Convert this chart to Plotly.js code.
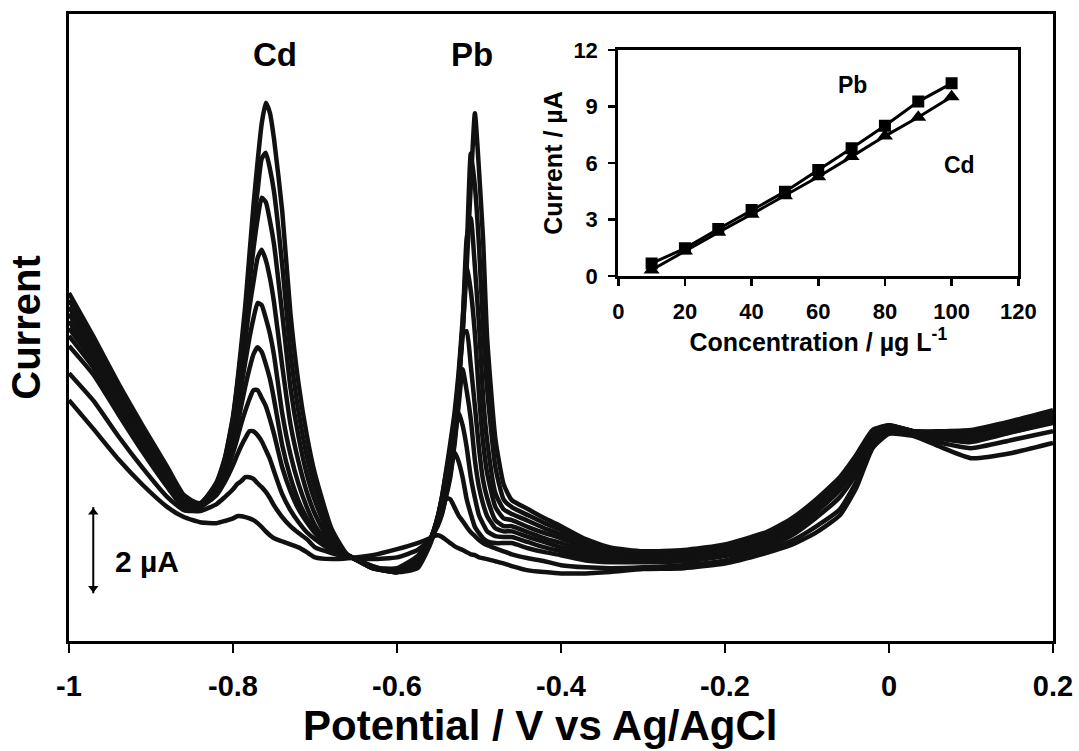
<!DOCTYPE html>
<html><head><meta charset="utf-8">
<script src="https://cdn.plot.ly/plotly-3.0.1.min.js"></script>
<style>html,body{margin:0;padding:0;background:#fff}#chart{width:1079px;height:751px}</style>
</head><body><div id="chart"></div>
<script>
// Potential grid (V vs Ag/AgCl)
const potential = [-1.00,-0.97,-0.94,-0.91,-0.88,-0.86,-0.84,-0.82,-0.81,-0.80,-0.795,-0.79,-0.785,-0.78,-0.775,-0.77,-0.765,-0.76,-0.755,-0.75,-0.74,-0.73,-0.72,-0.71,-0.70,-0.68,-0.66,-0.63,-0.60,-0.575,-0.56,-0.555,-0.55,-0.545,-0.54,-0.535,-0.53,-0.525,-0.52,-0.515,-0.51,-0.505,-0.50,-0.495,-0.49,-0.48,-0.47,-0.46,-0.44,-0.42,-0.40,-0.37,-0.34,-0.30,-0.25,-0.20,-0.15,-0.12,-0.09,-0.06,-0.04,-0.02,0.00,0.03,0.06,0.10,0.15,0.20];

// Stripping currents (µA, arbitrary offset) for each concentration (µg/L)
const current100 = [8.03,7.02,5.95,4.96,4.01,3.37, 3.16,3.67,4.22,5.19,5.93,6.81,7.75,8.91,10.06,11.06,11.94,12.42,12.19,11.59,9.93,7.57,5.93,4.75,3.85,2.60,1.98, 1.73,1.59, 1.68,2.21,2.46,2.79,3.18,3.76,4.45,5.14,5.93,7.11,8.63,10.53,12.18,10.87,9.26,6.97,4.66,3.62, 3.25,3.04,2.83,2.65,2.35,2.16,2.07, 2.10,2.23,2.51,2.81,3.25,3.78,4.29,4.87, 4.98,4.84,4.84,4.87,5.08,5.33];
const current90 = [7.87,6.90,5.86,4.87,3.94,3.32, 3.18,3.64,4.20,5.12,5.86,6.67,7.55,8.56,9.56,10.39,11.13,11.27,10.90,10.37,8.68,6.67,5.28,4.27,3.53,2.49,1.98, 1.73,1.59, 1.77,2.30,2.56,2.88,3.34,3.94,4.57,5.24,6.16,7.41,9.00,11.25,10.50,9.12,7.22,5.79,4.01,3.27, 3.09,2.90,2.72,2.56,2.28,2.12,2.05, 2.07,2.19,2.46,2.77,3.20,3.74,4.24,4.84, 4.98,4.84,4.82,4.82,5.03,5.28];
const current80 = [7.71,6.78,5.77,4.80,3.90,3.30, 3.16,3.62,4.15,5.10,5.77,6.51,7.36,8.24,9.05,9.74,10.23,10.13,9.70,9.16,7.55,5.86,4.71,3.85,3.23,2.35,1.98, 1.70,1.59, 1.82,2.30,2.56,2.88,3.34,3.90,4.43,5.08,6.05,7.27,9.30,9.76,8.63,7.29,5.63,4.61,3.41,3.04, 2.93,2.77,2.60,2.46,2.21,2.07,2.03, 2.05,2.16,2.42,2.72,3.16,3.69,4.20,4.82, 4.96,4.84,4.80,4.78,4.98,5.24];
const current70 = [7.55,6.67,5.68,4.73,3.83,3.25, 3.18,3.60,4.11,5.01,5.58,6.21,6.95,7.69,8.29,8.84,9.03,8.79,8.38,7.82,6.35,5.01,4.13,3.44,2.93,2.23,1.98, 1.70,1.59, 1.84,2.30,2.56,2.90,3.32,3.78,4.29,4.96,5.91,7.06,8.66,8.08,7.09,5.68,4.57,3.87,3.09,2.83, 2.79,2.63,2.49,2.37,2.14,2.03,2.00, 2.03,2.12,2.37,2.67,3.11,3.64,4.15,4.80, 4.96,4.84,4.78,4.73,4.94,5.19];
const current60 = [7.38,6.55,5.58,4.64,3.78,3.23, 3.16,3.57,4.04,4.80,5.28,5.86,6.44,6.99,7.45,7.80,7.75,7.45,7.09,6.60,5.26,4.31,3.62,3.09,2.67,2.14,1.98, 1.68,1.59, 1.84,2.28,2.51,2.83,3.20,3.60,4.08,4.75,5.61,7.08,7.15,6.35,5.42,4.45,3.71,3.30,2.79,2.65, 2.65,2.51,2.37,2.26,2.07,1.98,1.96, 1.98,2.10,2.33,2.63,3.07,3.60,4.11,4.78, 4.94,4.82,4.75,4.71,4.89,5.17];
const current50 = [7.22,6.44,5.49,4.57,3.71,3.18, 3.13,3.50,3.90,4.57,4.94,5.42,5.88,6.28,6.62,6.78,6.67,6.39,6.05,5.58,4.52,3.78,3.23,2.83,2.51,2.07,1.98, 1.68,1.61, 1.86,2.28,2.53,2.83,3.13,3.46,3.97,4.61,5.40,6.27,5.77,5.12,4.17,3.55,3.16,2.88,2.60,2.53, 2.53,2.40,2.28,2.16,2.00,1.93,1.93, 1.96,2.05,2.28,2.58,3.02,3.55,4.06,4.75, 4.94,4.82,4.73,4.68,4.87,5.12];
const current40 = [7.04,6.30,5.38,4.47,3.64,3.13, 3.11,3.44,3.78,4.34,4.66,5.01,5.31,5.58,5.79,5.79,5.61,5.42,5.12,4.78,4.01,3.46,3.04,2.74,2.49,2.14,1.98, 1.68,1.63, 1.91,2.33,2.53,2.79,3.04,3.39,3.87,4.50,5.28,4.98,4.47,3.78,3.30,2.90,2.70,2.53,2.42,2.40, 2.40,2.28,2.16,2.07,1.93,1.86,1.89, 1.91,2.00,2.23,2.51,2.95,3.48,3.99,4.71, 4.91,4.82,4.71,4.64,4.82,5.08];
const current30 = [6.81,6.14,5.24,4.36,3.55,3.09, 3.09,3.37,3.67,4.06,4.29,4.50,4.68,4.84,4.84,4.75,4.61,4.41,4.20,3.92,3.39,3.02,2.74,2.51,2.35,2.10,1.98, 1.70,1.68, 1.96,2.35,2.51,2.72,2.97,3.34,3.78,4.36,4.15,3.78,3.27,2.93,2.63,2.49,2.37,2.30,2.26,2.26, 2.26,2.14,2.05,1.98,1.86,1.82,1.82, 1.84,1.96,2.16,2.42,2.83,3.32,3.85,4.64, 4.89,4.80,4.68,4.59,4.82,5.03];
const current20 = [6.18,5.54,4.73,3.99,3.32,3.02, 3.00,3.16,3.32,3.50,3.62,3.69,3.78,3.78,3.74,3.64,3.55,3.44,3.30,3.13,2.86,2.65,2.49,2.35,2.16,2.03,1.93, 1.89,1.93, 2.10,2.33,2.49,2.67,2.93,3.30,3.27,3.09,2.90,2.77,2.63,2.51,2.42,2.33,2.26,2.21,2.14,2.07, 2.00,1.91,1.84,1.75,1.70,1.68,1.70, 1.75,1.86,2.10,2.30,2.63,3.04,3.67,4.54, 4.84,4.78,4.59,4.45,4.64,4.84];
const current10 = [5.56,4.89,4.20,3.60,3.09,2.86, 2.74,2.72,2.77,2.83,2.88,2.88,2.86,2.83,2.79,2.72,2.63,2.53,2.44,2.37,2.30,2.23,2.16,2.05,1.93,1.89,1.91, 1.98,2.12, 2.26,2.37,2.42,2.44,2.40,2.33,2.26,2.19,2.14,2.10,2.05,2.00,1.98,1.93,1.91,1.89,1.84,1.79, 1.73,1.63,1.59,1.56,1.56,1.59,1.66, 1.68,1.79,2.03,2.21,2.49,2.90,3.53,4.45, 4.78,4.73,4.50,4.22,4.34,4.57];

// Inset calibration
const concentration = [10,20,30,40,50,60,70,80,90,100];
const pbPeakCurrent = [0.67,1.47,2.50,3.50,4.48,5.63,6.78,7.98,9.26,10.23];
const cdPeakCurrent = [0.32,1.33,2.32,3.28,4.26,5.27,6.34,7.43,8.43,9.52];

// 2 µA scale bar (drawn at the left of the voltammograms)
const scaleBarPotential = [-0.9704, -0.9704];
const scaleBarCurrent = [1.10, 3.09];
const scaleBarHeads = [1.22, 2.97];

const xTickVals = [-1,-0.8,-0.6,-0.4,-0.2,0,0.2];
const xTickText = ['-1','-0.8','-0.6','-0.4','-0.2','0','0.2'];

const FONT = '"Liberation Sans", Arial, Helvetica, sans-serif';
const curves = [current10,current20,current30,current40,current50,current60,current70,current80,current90,current100];
const traces = curves.map(c => ({
  x: potential, y: c, type: 'scatter', mode: 'lines',
  line: {color: '#111', width: 4.5, shape: 'spline', smoothing: 0.5},
  hoverinfo: 'skip', xaxis: 'x', yaxis: 'y'
}));
traces.push({
  x: scaleBarPotential, y: scaleBarCurrent, type: 'scatter', mode: 'lines',
  line: {color: '#000', width: 2}, xaxis: 'x', yaxis: 'y', hoverinfo: 'skip'
});
traces.push({
  x: scaleBarPotential, y: scaleBarHeads, type: 'scatter', mode: 'markers',
  marker: {symbol: ['triangle-down', 'triangle-up'], size: 9, color: '#000'},
  xaxis: 'x', yaxis: 'y', hoverinfo: 'skip'
});
traces.push({
  x: concentration, y: pbPeakCurrent, type: 'scatter', mode: 'lines+markers',
  line: {color: '#000', width: 3}, marker: {symbol: 'square', size: 12, color: '#000'},
  xaxis: 'x2', yaxis: 'y2', hoverinfo: 'skip'
});
traces.push({
  x: concentration, y: cdPeakCurrent, type: 'scatter', mode: 'lines+markers',
  line: {color: '#000', width: 3}, marker: {symbol: 'triangle-up', size: 14, color: '#000'},
  xaxis: 'x2', yaxis: 'y2', hoverinfo: 'skip'
});

const layout = {
  width: 1079, height: 751,
  margin: {l: 69, r: 26, t: 14, b: 110},
  paper_bgcolor: '#fff', plot_bgcolor: '#fff',
  font: {family: FONT, color: '#000'},
  showlegend: false,
  xaxis: {
    range: [-1, 0.2], tickvals: xTickVals, ticktext: xTickText,
    ticks: 'outside', ticklen: 9, tickwidth: 2.5, tickcolor: '#000',
    showline: true, linewidth: 3, linecolor: '#000', mirror: true,
    showgrid: false, zeroline: false, ticklabelstandoff: 8,
    tickfont: {size: 29, weight: 'bold', family: FONT}
  },
  yaxis: {
    range: [0, 14.47], showticklabels: false, ticks: '',
    showline: true, linewidth: 3, linecolor: '#000', mirror: true,
    showgrid: false, zeroline: false,
    title: {text: 'Current', font: {size: 40, weight: 'bold', family: FONT}, standoff: 14}
  },
  xaxis2: {
    domain: [0.5582, 0.9647], anchor: 'y2', range: [0, 120], tick0: 0, dtick: 20,
    ticks: 'outside', ticklen: 7, tickwidth: 2.5, tickcolor: '#000',
    showline: true, linewidth: 3, linecolor: '#000', mirror: true,
    showgrid: false, zeroline: false, ticklabelstandoff: 7,
    tickfont: {size: 22, weight: 'bold', family: FONT},
    title: {text: 'Concentration / µg L<sup>-1</sup>', font: {size: 25, weight: 'bold', family: FONT}, standoff: 2}
  },
  yaxis2: {
    domain: [0.5821, 0.9426], anchor: 'x2', range: [0, 12], tick0: 0, dtick: 3,
    ticks: 'outside', ticklen: 7, tickwidth: 2.5, tickcolor: '#000',
    showline: true, linewidth: 3, linecolor: '#000', mirror: true,
    showgrid: false, zeroline: false, ticklabelstandoff: 6,
    tickfont: {size: 22, weight: 'bold', family: FONT},
    title: {text: 'Current / µA', font: {size: 25, weight: 'bold', family: FONT}, standoff: 4}
  },
  annotations: [
    {xref: 'paper', yref: 'paper', x: 0.4787, y: -0.1754, xanchor: 'center', yanchor: 'bottom',
     text: 'Potential / V vs Ag/AgCl', showarrow: false, font: {size: 42, weight: 'bold', family: FONT}},
    {xref: 'x', yref: 'y', x: -0.7484, y: 13.53, text: 'Cd', showarrow: false, font: {size: 33, weight: 'bold', family: FONT}},
    {xref: 'x', yref: 'y', x: -0.5082, y: 13.53, text: 'Pb', showarrow: false, font: {size: 33, weight: 'bold', family: FONT}},
    {xref: 'x', yref: 'y', x: -0.946, y: 1.84, xanchor: 'left', text: '2 µA', showarrow: false, font: {size: 30, weight: 'bold', family: FONT}},
    {xref: 'x2', yref: 'y2', x: 70.4, y: 10.14, text: 'Pb', showarrow: false, font: {size: 23, weight: 'bold', family: FONT}},
    {xref: 'x2', yref: 'y2', x: 102.5, y: 5.9, text: 'Cd', showarrow: false, font: {size: 23, weight: 'bold', family: FONT}}
  ]
};

Plotly.newPlot('chart', traces, layout, {displayModeBar: false, staticPlot: true});
</script>
</body></html>
